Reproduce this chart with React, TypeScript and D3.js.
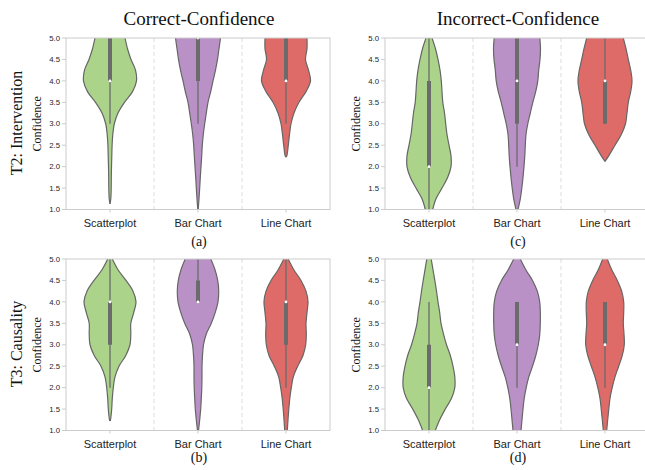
import React from 'react';
import * as d3 from 'd3';

// categories and colours
const categories = ['Scatterplot', 'Bar Chart', 'Line Chart'];
const palette = ['#abd48a', '#b991c6', '#de6b67'];
const yTicks = [1.0, 1.5, 2.0, 2.5, 3.0, 3.5, 4.0, 4.5, 5.0];

// confidence levels at which the violin widths were read (top to bottom)
const levels = [5, 4.75, 4.5, 4.25, 4, 3.75, 3.5, 3.25, 3, 2.75, 2.5, 2.25, 2, 1.75, 1.5, 1.25, 1];

// (a) T2 Intervention, correct answers
const t2CorrectDensity = [
  [15, 17.5, 21, 25.5, 26.5, 22.5, 14.5, 8, 4.3, 2.8, 2.1, 1.8, 1.5, 1.3, 1.2, 0.8],
  [22.5, 21, 19.5, 17.5, 15, 12.7, 10, 8.3, 6.7, 5.3, 4.3, 3.7, 3, 2.3, 1.7, 1, 0.2],
  [21, 21, 19.5, 22.5, 24.5, 20, 13, 8, 5, 3.5, 2.3, 0.8],
];
const t2CorrectTips = [1.13, null, 2.22];
// [whisker low, q1, median, q3, whisker high]
const t2CorrectBox = [
  [3, 4, 4, 5, 5],
  [3, 4, 5, 5, 5],
  [3, 4, 4, 5, 5],
];

// (c) T2 Intervention, incorrect answers
const t2IncorrectDensity = [
  [3, 6.5, 9, 11, 12.3, 13, 13.8, 15.5, 16.7, 18, 20, 22, 22, 18.7, 13, 7, 3.7],
  [22.8, 23.5, 23, 21.7, 20.8, 18.7, 15.8, 13.3, 10.8, 9, 8.3, 7.8, 7, 6, 4.8, 3.3, 1],
  [18.3, 21, 23.3, 25.7, 27, 25.7, 23.3, 22, 20.5, 16.3, 10, 3.7],
];
const t2IncorrectTips = [null, null, 2.12];
const t2IncorrectBox = [
  [1, 2, 2, 4, 5],
  [2, 3, 4, 5, 5],
  [3, 3, 4, 4, 5],
];

// (b) T3 Causality, correct answers
const t3CorrectDensity = [
  [2.3, 8, 16, 23, 26, 23.7, 20.8, 20.8, 20, 15.8, 9, 5, 3.3, 2.3, 1.7, 0.5],
  [12.8, 17, 19.7, 20.7, 20, 17.2, 13.3, 8.3, 5.5, 4.5, 4, 4, 3.8, 3.3, 2.7, 1.7, 0.5],
  [2.2, 7.8, 15, 20, 22, 21, 20, 20.3, 19.7, 17, 11.7, 7.3, 5.3, 3.8, 2.8, 2, 1.3],
];
const t3CorrectTips = [1.22, null, null];
const t3CorrectBox = [
  [2, 3, 4, 4, 5],
  [4, 4, 4, 4.5, 5],
  [2, 3, 4, 4, 5],
];

// (d) T3 Causality, incorrect answers
const t3IncorrectDensity = [
  [2.2, 4, 5.8, 7.5, 9, 10.7, 12, 14.5, 17.5, 21.3, 24, 25.8, 25.8, 22.5, 16.3, 10.7, 6.3],
  [3.3, 8.8, 15.5, 20.3, 22.7, 23.3, 23.3, 22.8, 21.3, 18.8, 15.5, 11.8, 9.2, 7.2, 6, 5, 4],
  [2.3, 6.7, 12.3, 16.7, 18.7, 18.7, 18.3, 19, 19.3, 17.3, 13.7, 10, 7.2, 5, 3.8, 2.7, 1.7],
];
const t3IncorrectTips = [null, null, null];
const t3IncorrectBox = [
  [1, 2, 2, 3, 4],
  [2, 3, 3, 4, 4],
  [2, 3, 3, 4, 4],
];

const W = 264;
const H = 171.5;
const sans = '"Liberation Sans", Arial, sans-serif';
const serif = '"Liberation Serif", "Times New Roman", serif';

type Pt = [number, number];

const ViolinPanel = ({ x0, y0, id, density, tips, box }) => {
  const x = d3.scaleBand().domain(categories).range([0, W]);
  const y = d3.scaleLinear().domain([1, 5]).range([H, 0]);
  const wScale = d3.scaleLinear().domain([0, 30]).range([0, 30]);

  return (
    <g transform={`translate(${x0},${y0})`}>
      <defs>
        <clipPath id={`clip-${id}`}>
          <rect x={0} y={0} width={W} height={H} />
        </clipPath>
      </defs>
      {/* band separators */}
      {categories.slice(1).map(c => (
        <line key={c} x1={x(c)} x2={x(c)} y1={0} y2={H}
          stroke="#dcdcdc" strokeWidth={1} strokeDasharray="4,3" />
      ))}
      <g clipPath={`url(#clip-${id})`}>
        {categories.map((c, i) => {
          const cx = x(c) + x.bandwidth() / 2;
          const pts: Pt[] = density[i].map((d, j) => [levels[j], d] as Pt);
          if (tips[i] != null) pts.push([tips[i], 0]);
          const curve = d3.curveCatmullRom.alpha(0.5);
          const area = d3.area<Pt>()
            .y(d => y(d[0]))
            .x0(d => cx - wScale(d[1]))
            .x1(d => cx + wScale(d[1]))
            .curve(curve);
          const left = d3.line<Pt>().x(d => cx - wScale(d[1])).y(d => y(d[0])).curve(curve);
          const right = d3.line<Pt>().x(d => cx + wScale(d[1])).y(d => y(d[0])).curve(curve);
          const [wl, q1, med, q3, wh] = box[i];
          return (
            <g key={c}>
              <path d={area(pts)} fill={palette[i]} stroke="none" />
              <path d={left(pts)} fill="none" stroke="#666" strokeWidth={1.2} />
              <path d={right(pts)} fill="none" stroke="#666" strokeWidth={1.2} />
              <line x1={cx} x2={cx} y1={y(wl)} y2={y(wh)} stroke="#6b6b6b" strokeWidth={1.3} />
              <line x1={cx} x2={cx} y1={y(q1)} y2={y(q3)} stroke="#6b6b6b" strokeWidth={4} />
              <circle cx={cx} cy={y(med)} r={1.4} fill="#fff" />
            </g>
          );
        })}
      </g>
      {/* frame */}
      <rect x={0} y={0} width={W} height={H} fill="none" stroke="#cccccc" strokeWidth={1} />
      {yTicks.map(t => (
        <g key={t} transform={`translate(0,${y(t)})`}>
          <line x1={-4} x2={0} stroke="#cccccc" />
          <text x={-6} dy="0.35em" textAnchor="end" fontFamily={sans} fontSize={7.8} fill="#262626">
            {t.toFixed(1)}
          </text>
        </g>
      ))}
      {categories.map(c => {
        const cx = x(c) + x.bandwidth() / 2;
        return (
          <g key={c} transform={`translate(${cx},${H})`}>
            <line y1={0} y2={3} stroke="#cccccc" />
            <text y={17} textAnchor="middle" fontFamily={sans} fontSize={11} fill="#222">{c}</text>
          </g>
        );
      })}
      <text transform={`translate(-25,${H / 2}) rotate(-90)`} textAnchor="middle"
        fontFamily={serif} fontSize={12} fill="#111">Confidence</text>
    </g>
  );
};

const App = () => {
  return (
    <svg width={645} height={470} style={{ position: 'absolute', left: 0, top: 0, background: '#fff' }}>
      <rect width={645} height={470} fill="#fff" />
      <text x={199} y={25} textAnchor="middle" fontFamily={serif} fontSize={19} fill="#111">Correct-Confidence</text>
      <text x={518} y={25} textAnchor="middle" fontFamily={serif} fontSize={19} fill="#111">Incorrect-Confidence</text>
      <text transform="translate(22,123) rotate(-90)" textAnchor="middle" fontFamily={serif} fontSize={16} fill="#111">T2: Intervention</text>
      <text transform="translate(22,344) rotate(-90)" textAnchor="middle" fontFamily={serif} fontSize={16} fill="#111">T3: Causality</text>

      <ViolinPanel x0={66} y0={38} id="a" density={t2CorrectDensity} tips={t2CorrectTips} box={t2CorrectBox} />
      <ViolinPanel x0={385} y0={38} id="c" density={t2IncorrectDensity} tips={t2IncorrectTips} box={t2IncorrectBox} />
      <ViolinPanel x0={66} y0={259} id="b" density={t3CorrectDensity} tips={t3CorrectTips} box={t3CorrectBox} />
      <ViolinPanel x0={385} y0={259} id="d" density={t3IncorrectDensity} tips={t3IncorrectTips} box={t3IncorrectBox} />

      <text x={199} y={246} textAnchor="middle" fontFamily={serif} fontSize={14} fill="#111">(a)</text>
      <text x={518} y={246} textAnchor="middle" fontFamily={serif} fontSize={14} fill="#111">(c)</text>
      <text x={199} y={462} textAnchor="middle" fontFamily={serif} fontSize={14} fill="#111">(b)</text>
      <text x={518} y={462} textAnchor="middle" fontFamily={serif} fontSize={14} fill="#111">(d)</text>
    </svg>
  );
};

export default App;
